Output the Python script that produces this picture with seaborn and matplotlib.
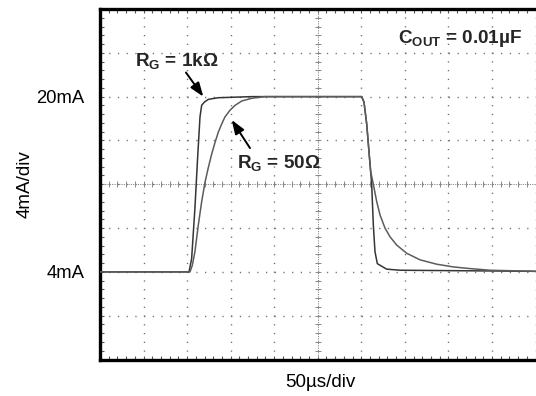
import numpy as np
import pandas as pd
import matplotlib
matplotlib.use("Agg")
import matplotlib.pyplot as plt
import seaborn as sns
from matplotlib.ticker import MultipleLocator

# ---- data (time in microseconds, current in mA) ----
t_1k = [0, 102.2, 105.2, 109, 112.1, 114.8, 116.7, 119.8, 124.4, 135.8, 174.2,
        300.4, 303.1, 306.2, 308.8, 310.7, 311.9, 313.8, 315.7, 318.4, 329.1,
        344.4, 500]
i_1k = [4, 4, 5.2, 9.85, 14.45, 18.15, 19.2, 19.5, 19.75, 19.9, 20,
        20, 19.5, 17.5, 15.0, 13.2, 12.0, 8.3, 5.85, 4.75, 4.25,
        4.15, 4.05]

t_50 = [0, 103.3, 106, 109, 112.9, 116.8, 120.5, 124.3, 128.2, 132, 135.8,
        139.7, 143.5, 149.2, 155, 162.7, 174.2, 189.4,
        300.4, 303.1, 306.2, 308.8, 310.7, 313.8, 317.6, 321.5, 327.2, 333,
        340.6, 352.1, 367.4, 386.6, 405.8, 424.9, 447.8, 500]
i_50 = [4, 4, 4.6, 5.85, 8.3, 10.45, 12.15, 13.5, 14.75, 15.8, 16.75,
        17.5, 18.15, 18.75, 19.2, 19.6, 19.85, 20,
        20, 19.5, 17.5, 15.0, 13.2, 12.0, 10.45, 9.2, 8.0, 7.2,
        6.45, 5.7, 5.1, 4.7, 4.45, 4.3, 4.15, 4.05]

series_names = ["RG = 1kΩ", "RG = 50Ω"]
ytick_vals = [4, 20]
ytick_text = ["4mA", "20mA"]
x_label = "50µs/div"
y_label = "4mA/div"
cout_label = r"C$_{\mathbf{OUT}}$ = 0.01µF"
rg1k_label = r"R$_{\mathbf{G}}$ = 1kΩ"
rg50_label = r"R$_{\mathbf{G}}$ = 50Ω"

df = pd.concat([
    pd.DataFrame({"t": t_1k, "i": i_1k, "s": series_names[0]}),
    pd.DataFrame({"t": t_50, "i": i_50, "s": series_names[1]}),
], ignore_index=True)

sns.set_theme(style="white")
plt.rcParams["font.family"] = ["Liberation Sans", "DejaVu Sans"]
plt.rcParams["mathtext.fontset"] = "custom"
plt.rcParams["mathtext.rm"] = "Liberation Sans"
plt.rcParams["mathtext.bf"] = "Liberation Sans:bold"
plt.rcParams["mathtext.it"] = "Liberation Sans:italic"

fig = plt.figure(figsize=(5.36, 3.96), dpi=100)
ax = fig.add_axes([100 / 536, 1 - 359.5 / 396, 435.5 / 536, 350.5 / 396])

ax.set_xlim(0, 500)
ax.set_ylim(-4, 28)

# grid of dots
grid_col = "#6e6e6e"
ax.xaxis.set_major_locator(MultipleLocator(50))
ax.xaxis.set_minor_locator(MultipleLocator(10))
ax.yaxis.set_major_locator(MultipleLocator(4))
ax.yaxis.set_minor_locator(MultipleLocator(0.8))
ax.xaxis.grid(True, which="major", color=grid_col, lw=1.0, linestyle=(0, (0.9, 5.41)))
ax.yaxis.grid(True, which="major", color=grid_col, lw=1.0, linestyle=(0, (0.9, 5.37)))

# centre cross-hair
ax.axhline(12, color="#888888", lw=0.7, linestyle=(0, (1.2, 1.2)), zorder=1)
ax.axvline(250, color="#888888", lw=0.7, linestyle=(0, (1.2, 1.2)), zorder=1)
xm = np.arange(10, 500, 10)
ym = np.arange(-3.2, 28, 0.8)
ax.plot(xm, np.full_like(xm, 12, dtype=float), ls="none", marker="|", ms=4,
        mew=0.7, color="#888888", zorder=1)
ax.plot(np.full_like(ym, 250), ym, ls="none", marker="_", ms=4,
        mew=0.7, color="#888888", zorder=1)

sns.lineplot(data=df, x="t", y="i", hue="s", palette=["#353535", "#5c5c5c"],
             estimator=None, sort=False, legend=False, lw=1.1, ax=ax, zorder=3)

# ticks
ax.set_xticklabels([])
yt = np.arange(-4, 29, 4)
ax.set_yticks(yt)
ax.set_yticklabels([ytick_text[ytick_vals.index(v)] if v in ytick_vals else "" for v in yt])
ax.tick_params(axis="both", which="both", direction="in", top=True, bottom=True,
               left=True, right=False, length=3, width=0.8, color="#555555")
ax.tick_params(axis="y", which="major", pad=11, labelsize=13.3, labelcolor="black")

for side in ["left", "top", "bottom"]:
    ax.spines[side].set_linewidth(2.4)
    ax.spines[side].set_color("black")
ax.spines["right"].set_visible(False)

ax.set_xlabel(x_label, fontsize=13.6, color="black")
ax.set_ylabel(y_label, fontsize=13.6, color="black")
ax.xaxis.set_label_coords(0.507, -0.04)
ax.yaxis.set_label_coords(-0.152, 0.5)

# annotations
fs_ann = 13.6
arrow_style = "-|>,head_length=0.6,head_width=0.22"
ax.text(40.2, 22.8, rg1k_label, fontsize=fs_ann, fontweight="bold", ha="left", va="baseline")
ax.annotate("", xy=(118.6, 20.0), xytext=(98.7, 22.2),
            arrowprops=dict(arrowstyle=arrow_style, color="black", lw=1.4, mutation_scale=14,
                            shrinkA=0, shrinkB=0))
ax.text(157.3, 13.46, rg50_label, fontsize=fs_ann, fontweight="bold", ha="left", va="baseline")
ax.annotate("", xy=(151.2, 17.87), xytext=(172.2, 15.3),
            arrowprops=dict(arrowstyle=arrow_style, color="black", lw=1.4, mutation_scale=14,
                            shrinkA=0, shrinkB=0))
ax.text(342.1, 24.9, cout_label, fontsize=fs_ann, fontweight="bold", ha="left", va="baseline")

fig.savefig("out.png", dpi=100)
